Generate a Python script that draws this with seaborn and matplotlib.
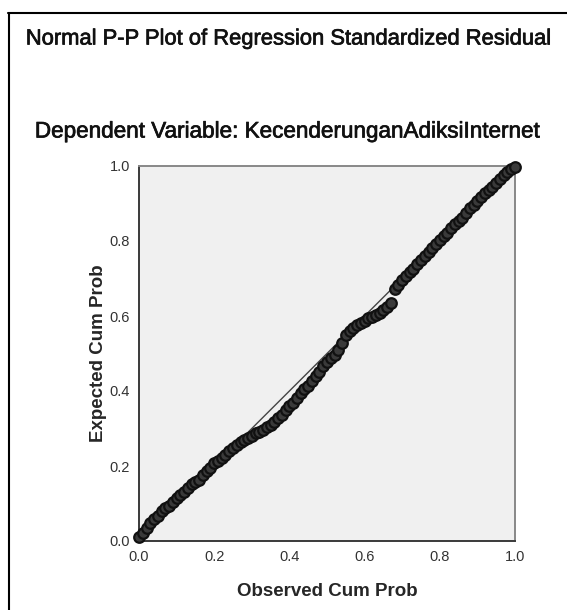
import numpy as np
import pandas as pd
import matplotlib
matplotlib.use("Agg")
import matplotlib.pyplot as plt
import matplotlib.patheffects as pe
import seaborn as sns
from matplotlib.lines import Line2D

# observed vs expected cumulative probability
observed = [0.00, 0.01, 0.02, 0.03, 0.04, 0.05, 0.06, 0.07, 0.08, 0.09,
            0.10, 0.11, 0.12, 0.13, 0.14, 0.15, 0.16, 0.17, 0.18, 0.19,
            0.20, 0.21, 0.22, 0.23, 0.24, 0.25, 0.26, 0.27, 0.28, 0.29,
            0.30, 0.31, 0.32, 0.33, 0.34, 0.35, 0.36, 0.37, 0.38, 0.39,
            0.40, 0.41, 0.42, 0.43, 0.44, 0.45, 0.46, 0.47, 0.48, 0.49,
            0.50, 0.51, 0.52, 0.53, 0.54, 0.55, 0.56, 0.57, 0.58, 0.59,
            0.60, 0.61, 0.62, 0.63, 0.64, 0.65, 0.66, 0.67, 0.68, 0.69,
            0.70, 0.71, 0.72, 0.73, 0.74, 0.75, 0.76, 0.77, 0.78, 0.79,
            0.80, 0.81, 0.82, 0.83, 0.84, 0.85, 0.86, 0.87, 0.88, 0.89,
            0.90, 0.91, 0.92, 0.93, 0.94, 0.95, 0.96, 0.97, 0.98, 0.99, 1.00]
expected = [0.010, 0.022, 0.035, 0.048, 0.058, 0.068, 0.080, 0.088, 0.094, 0.104,
            0.115, 0.122, 0.130, 0.142, 0.152, 0.158, 0.163, 0.175, 0.186, 0.195,
            0.207, 0.214, 0.222, 0.230, 0.240, 0.248, 0.255, 0.263, 0.270, 0.276,
            0.281, 0.287, 0.292, 0.297, 0.303, 0.310, 0.318, 0.327, 0.337, 0.350,
            0.360, 0.368, 0.382, 0.396, 0.405, 0.414, 0.428, 0.440, 0.452, 0.466,
            0.478, 0.488, 0.497, 0.510, 0.528, 0.548, 0.560, 0.568, 0.575, 0.582,
            0.588, 0.594, 0.598, 0.603, 0.608, 0.615, 0.624, 0.636, 0.672, 0.683,
            0.697, 0.707, 0.716, 0.726, 0.738, 0.750, 0.761, 0.770, 0.781, 0.793,
            0.803, 0.812, 0.822, 0.834, 0.845, 0.853, 0.862, 0.874, 0.887, 0.896,
            0.906, 0.918, 0.929, 0.937, 0.945, 0.955, 0.966, 0.975, 0.983, 0.991, 0.998]
ref_line = [0.0, 1.0]
ticks = [0.0, 0.2, 0.4, 0.6, 0.8, 1.0]
tick_labels = ["0.0", "0.2", "0.4", "0.6", "0.8", "1.0"]

df = pd.DataFrame({"obs": observed, "exp": expected})

sns.set_style("white")
plt.rcParams["font.family"] = ["Liberation Sans", "DejaVu Sans"]

fig = plt.figure(figsize=(5.67, 6.10), dpi=100)
ax = fig.add_axes([139 / 567, 69 / 610, 376 / 567, 375 / 610])
ax.set_facecolor("#f0f0f0")

ax.plot(ref_line, ref_line, color="#444444", lw=1.0, zorder=2)
# dense overlapping open circles in the original read as a dark band
sns.scatterplot(data=df, x="obs", y="exp", ax=ax, s=58, marker="o",
                facecolor="#3a3a3a", edgecolor="#111111", linewidth=1.6,
                zorder=3, clip_on=False)

ax.set_xlim(0, 1)
ax.set_ylim(0, 1)
ax.set_xticks(ticks)
ax.set_xticklabels(tick_labels)
ax.set_yticks(ticks)
ax.set_yticklabels(tick_labels)
ax.tick_params(direction="out", length=5, width=1.2, color="#333333",
               labelsize=10.5, labelcolor="#333333", pad=1.5)
for side in ["left", "bottom"]:
    ax.spines[side].set_color("#3a3a3a")
    ax.spines[side].set_linewidth(1.4)
for side in ["top", "right"]:
    ax.spines[side].set_color("#888888")
    ax.spines[side].set_linewidth(1.4)

ax.set_xlabel("Observed Cum Prob", fontsize=13.5, fontweight="bold", labelpad=14)
ax.set_ylabel("Expected Cum Prob", fontsize=13.5, fontweight="bold", labelpad=2)

title_fx = [pe.withStroke(linewidth=0.5, foreground="#111111")]
fig.text(0.5 * (567 + 9) / 567, 1 - 39 / 610,
         "Normal P-P Plot of Regression Standardized Residual",
         ha="center", va="center", fontsize=15.8, color="#111111",
         path_effects=title_fx)
fig.text(0.5 * (567 + 9) / 567, 1 - 132 / 610,
         "Dependent Variable: KecenderunganAdiksiInternet",
         ha="center", va="center", fontsize=16.2, color="#111111",
         path_effects=title_fx)

# outer frame (top and left edges visible)
fig.add_artist(Line2D([8 / 567, 1.0], [1 - 13 / 610, 1 - 13 / 610],
                      transform=fig.transFigure, color="black", lw=1.5))
fig.add_artist(Line2D([9 / 567, 9 / 567], [0.0, 1 - 13 / 610],
                      transform=fig.transFigure, color="black", lw=1.5))

fig.savefig("out.png", dpi=100)
